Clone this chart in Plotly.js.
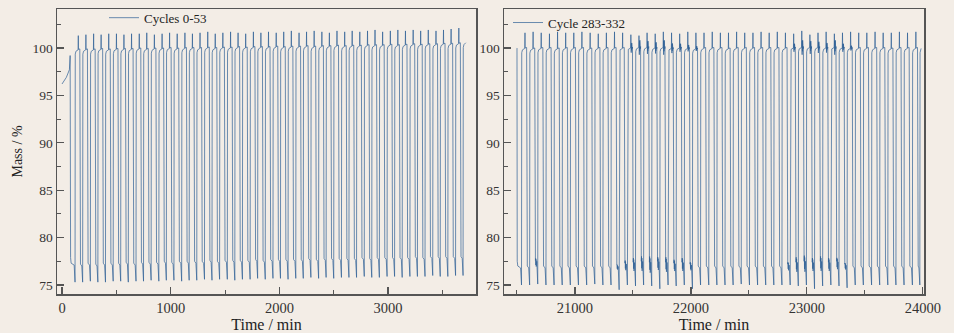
<!DOCTYPE html>
<html>
<head>
<meta charset="utf-8">
<script src="https://cdn.plot.ly/plotly-3.0.1.min.js"></script>
<style>html,body{margin:0;padding:0;background:#f3ede6;}</style>
</head>
<body>
<div id="chart" style="width:954px;height:333px;"></div>
<script>
// ---------- Left panel: cycles 0-53 ----------
// start-up segment before the first cycle (time, mass)
const leftStartT = [0, 40, 68, 75, 79, 84, 112];
const leftStartM = [96.2, 96.9, 97.7, 99.2, 77.9, 77.3, 77.1];
// time of each minimum (start of re-carbonation rise), min
const leftAsc = [120,190,261,330,400,471,540,610,681,750,820,891,960,1030,1101,1170,1240,1311,1380,1450,1521,1590,1660,1731,1800,1870,1941,2010,2080,2151,2220,2290,2361,2430,2500,2571,2640,2710,2781,2850,2920,2991,3060,3130,3201,3270,3340,3411,3480,3550,3621,3690];
// minimum mass of each cycle, %
const leftMin = [75.3,75.3,75.4,75.3,75.3,75.4,75.4,75.3,75.4,75.4,75.5,75.4,75.5,75.5,75.4,75.5,75.5,75.6,75.5,75.6,75.6,75.5,75.6,75.6,75.7,75.6,75.7,75.7,75.6,75.7,75.7,75.8,75.7,75.8,75.7,75.8,75.8,75.8,75.9,75.8,75.8,75.9,75.9,75.8,75.9,75.9,75.9,76.0,75.9,75.9,76.0,76.0];
// lower shoulder level of each cycle, %
const leftLow = [77.0,77.1,77.0,77.1,77.1,77.1,77.2,77.1,77.2,77.2,77.2,77.3,77.2,77.3,77.3,77.3,77.3,77.4,77.3,77.4,77.4,77.4,77.4,77.5,77.4,77.5,77.5,77.5,77.5,77.5,77.6,77.5,77.6,77.6,77.6,77.6,77.6,77.7,77.6,77.7,77.7,77.7,77.7,77.7,77.8,77.7,77.8,77.8,77.8,77.8,77.8,77.8];
// upper plateau level of each cycle, %
const leftTop = [99.85,99.85,99.85,99.9,99.85,99.9,99.9,99.9,99.95,99.9,99.95,99.95,100.0,99.95,100.0,100.0,100.0,100.05,100.0,100.05,100.05,100.1,100.05,100.1,100.1,100.1,100.15,100.1,100.15,100.15,100.2,100.15,100.2,100.2,100.25,100.2,100.25,100.25,100.3,100.3,100.3,100.35,100.3,100.35,100.4,100.35,100.4,100.4,100.45,100.45,100.5,100.55];
// overshoot peak of each cycle, % (last cycle has none)
const leftSpike = [101.3,101.4,101.5,101.4,101.5,101.5,101.4,101.5,101.5,101.6,101.4,101.5,101.6,101.5,101.6,101.5,101.6,101.7,101.5,101.6,101.7,101.6,101.5,101.7,101.6,101.7,101.6,101.7,101.8,101.6,101.7,101.8,101.7,101.6,101.8,101.7,101.8,101.7,101.8,101.9,101.7,101.8,101.9,101.8,101.9,101.8,101.9,101.8,101.9,102.0,102.1,null];
const leftEndT = [3715];
const leftEndM = [100.55];

// ---------- Right panel: cycles 283-332 ----------
const rightStartT = [20497, 20500, 20502, 20507, 20531];
const rightStartM = [100.0, 99.95, 77.5, 77.0, 76.8];
const rightAsc = [20539,20609,20679,20750,20820,20890,20960,21030,21101,21171,21241,21311,21381,21452,21522,21592,21662,21732,21803,21873,21943,22013,22083,22154,22224,22294,22364,22434,22505,22575,22645,22715,22785,22856,22926,22996,23066,23136,23207,23277,23347,23417,23487,23558,23628,23698,23768,23838,23910,23974];
const rightMin = [75.0,75.0,75.1,75.0,75.0,75.0,75.0,75.0,75.0,75.1,75.0,75.0,74.5,75.0,74.9,75.0,74.9,74.6,75.0,74.9,75.0,74.6,75.0,75.0,75.0,75.0,75.0,75.1,75.0,75.0,75.0,75.0,75.0,75.0,74.9,75.0,74.6,74.9,75.0,74.9,74.7,75.0,75.0,75.0,75.0,75.0,75.0,75.0,75.0,75.0];
const rightLow = [76.8,77.4,76.8,76.8,76.8,76.8,76.8,76.8,76.8,76.8,76.8,76.9,77.1,77.2,77.3,77.2,77.3,77.2,77.1,77.2,77.0,76.8,76.8,76.8,76.8,76.8,76.8,76.8,76.8,76.8,76.8,76.8,77.0,77.2,77.3,77.2,77.3,77.2,77.3,77.0,76.8,76.8,76.8,76.8,76.8,76.8,76.8,76.8,76.8,76.8];
const rightTop = [100.0,99.95,100.0,100.0,99.95,100.0,100.0,100.0,99.95,100.0,100.0,100.0,100.0,100.05,100.1,100.1,100.05,100.1,100.0,100.05,100.0,99.95,100.0,100.0,100.0,99.95,100.0,100.0,100.0,100.0,100.0,100.0,100.0,100.05,100.1,100.1,100.1,100.05,100.1,100.05,100.0,100.0,100.0,100.0,100.0,99.95,100.0,100.0,100.0,100.0];
const rightSpike = [101.6,101.7,101.6,101.5,101.7,101.6,101.6,101.7,101.6,101.5,101.6,101.7,101.6,101.4,101.3,101.6,101.5,101.7,101.6,101.5,101.7,101.6,101.6,101.7,101.6,101.6,101.7,101.6,101.6,101.7,101.6,101.7,101.6,101.5,101.8,101.4,101.6,101.7,101.5,101.6,101.7,101.6,101.6,101.7,101.6,101.6,101.7,101.6,101.7,null];
// scatter amplitude around the upper plateau and the lower shoulder of each cycle
const rightNoiseTop = [0,0,0,0,0,0,0,0,0,0,0,0,0,0.6,0.9,0.8,0.7,0.9,0.6,0.5,0.4,0.3,0,0,0,0,0,0,0,0,0,0,0,0.5,0.9,0.8,0.7,0.6,0.9,0.5,0.3,0,0,0,0,0,0,0,0,0];
const rightNoiseBot = [0,0.5,0,0,0,0,0,0,0,0,0,0.3,0.6,0.8,0.9,1.0,0.8,0.9,0.7,0.8,0.5,0,0,0,0,0,0,0,0,0,0,0,0.5,0.9,1.0,0.8,0.9,0.8,0.7,0.4,0,0,0,0,0,0,0,0,0,0];
const rightEndT = [23985];
const rightEndM = [99.95];

// fixed zig-zag shapes used to draw the recorded scatter
const wiggleTop = [-0.9, 0.7, -0.5, 0.8, -0.4, 0.5, -0.2];
const wiggleBot = [0.8, -0.6, 0.6, -0.9, 0.4, -0.5, 0.2];

function buildSeries(startT, startM, asc, mins, lows, tops, spikes, nTop, nBot, endT, endM) {
  const xs = startT.slice(), ys = startM.slice();
  for (let k = 0; k < asc.length; k++) {
    const a = asc[k];
    const P = tops[k], B = lows[k], S = spikes[k];
    xs.push(a); ys.push(mins[k]);
    xs.push(a + 2); ys.push(P - 0.5);
    xs.push(a + 8); ys.push(P - 0.2);
    if (S === null || k === asc.length - 1) {
      break;
    }
    xs.push(a + 28); ys.push(P - 0.05);
    xs.push(a + 30); ys.push(S);
    xs.push(a + 31.5); ys.push(P);
    const at = nTop ? nTop[k] : 0;
    if (at > 0) {
      for (let i = 0; i < wiggleTop.length; i++) {
        xs.push(a + 33 + i * 1.5); ys.push(P + at * wiggleTop[i]);
      }
    }
    xs.push(a + 44); ys.push(P + 0.05);
    xs.push(a + 46); ys.push(B + 0.6);
    xs.push(a + 50); ys.push(B + 0.2);
    const ab = nBot ? nBot[k] : 0;
    if (ab > 0) {
      for (let i = 0; i < wiggleBot.length; i++) {
        xs.push(a + 52 + i * 1.6); ys.push(B + ab * wiggleBot[i]);
      }
    }
    xs.push(asc[k + 1] - 8); ys.push(B);
  }
  for (let i = 0; i < endT.length; i++) { xs.push(endT[i]); ys.push(endM[i]); }
  return {x: xs, y: ys};
}

const L = buildSeries(leftStartT, leftStartM, leftAsc, leftMin, leftLow, leftTop, leftSpike, null, null, leftEndT, leftEndM);
const R = buildSeries(rightStartT, rightStartM, rightAsc, rightMin, rightLow, rightTop, rightSpike, rightNoiseTop, rightNoiseBot, rightEndT, rightEndM);

const lineColor = 'rgba(45,95,150,0.7)';
const font = 'Liberation Serif, Times New Roman, serif';

const traces = [
  {x: L.x, y: L.y, type: 'scatter', mode: 'lines', name: 'Cycles 0-53',
   line: {color: lineColor, width: 1}, xaxis: 'x', yaxis: 'y', legend: 'legend'},
  {x: R.x, y: R.y, type: 'scatter', mode: 'lines', name: 'Cycle 283-332',
   line: {color: lineColor, width: 1}, xaxis: 'x2', yaxis: 'y2', legend: 'legend2'}
];

const axisCommon = {
  showline: true, linecolor: '#555', linewidth: 1.5, mirror: true,
  showgrid: false, zeroline: false,
  ticks: 'inside', ticklen: 7, tickwidth: 1.2, tickcolor: '#555'
};
const yTicks = [75, 80, 85, 90, 95, 100];
const yMinor = [77.5, 82.5, 87.5, 92.5, 97.5, 102.5];

const layout = {
  width: 954, height: 333,
  paper_bgcolor: '#f3ede6', plot_bgcolor: '#f3ede6',
  margin: {l: 0, r: 0, t: 9, b: 39},
  showlegend: true,
  xaxis: Object.assign({}, axisCommon, {
    domain: [57/954, 476/954], range: [-46, 3809], anchor: 'y',
    tickmode: 'linear', tick0: 0, dtick: 1000, tickformat: 'd',
    minor: {dtick: 500, ticks: 'inside', ticklen: 4, tickcolor: '#555', tickwidth: 1},
    tickfont: {family: font, size: 14.5, color: '#333'},
    title: {text: 'Time / min', font: {family: font, size: 16, color: '#222'}, standoff: 2}
  }),
  yaxis: Object.assign({}, axisCommon, {
    domain: [0, 1], range: [74.05, 104.11], anchor: 'x',
    tickmode: 'array', tickvals: yTicks, ticktext: yTicks.map(String),
    minor: {tickmode: 'array', tickvals: yMinor, ticks: 'inside', ticklen: 4, tickcolor: '#555', tickwidth: 1},
    tickfont: {family: font, size: 13.5, color: '#333'},
    title: {text: 'Mass / %', font: {family: font, size: 14, color: '#222'}, standoff: 6}
  }),
  xaxis2: Object.assign({}, axisCommon, {
    domain: [504/954, 924/954], range: [20388, 24010], anchor: 'y2',
    tickmode: 'linear', tick0: 21000, dtick: 1000, tickformat: 'd',
    minor: {dtick: 500, ticks: 'inside', ticklen: 4, tickcolor: '#555', tickwidth: 1},
    tickfont: {family: font, size: 14.5, color: '#333'},
    title: {text: 'Time / min', font: {family: font, size: 16, color: '#222'}, standoff: 2}
  }),
  yaxis2: Object.assign({}, axisCommon, {
    domain: [0, 1], range: [74.05, 104.11], anchor: 'x2',
    tickmode: 'array', tickvals: yTicks, ticktext: yTicks.map(String),
    minor: {tickmode: 'array', tickvals: yMinor, ticks: 'inside', ticklen: 4, tickcolor: '#555', tickwidth: 1},
    tickfont: {family: font, size: 13.5, color: '#333'}
  }),
  legend: {x: 104/954, y: 1.022, xanchor: 'left', yanchor: 'top', xref: 'paper', yref: 'paper',
    bgcolor: 'rgba(0,0,0,0)', borderwidth: 0, itemwidth: 30,
    font: {family: font, size: 13, color: '#222'}},
  legend2: {x: 508/954, y: 1.005, xanchor: 'left', yanchor: 'top', xref: 'paper', yref: 'paper',
    bgcolor: 'rgba(0,0,0,0)', borderwidth: 0, itemwidth: 30,
    font: {family: font, size: 13, color: '#222'}}
};

Plotly.newPlot('chart', traces, layout, {displayModeBar: false, staticPlot: true});
</script>
</body>
</html>
